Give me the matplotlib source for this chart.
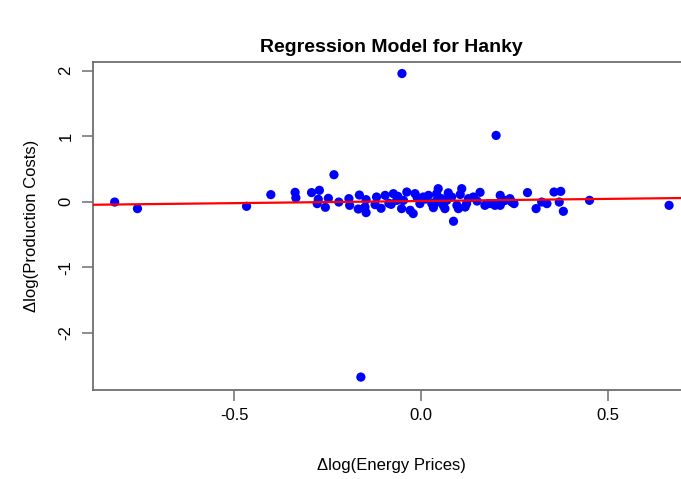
import matplotlib
matplotlib.use("Agg")
import matplotlib.pyplot as plt
import numpy as np

plt.rcParams['font.family'] = ['Liberation Sans', 'DejaVu Sans']
plt.rcParams['axes.unicode_minus'] = False

# changes in log energy prices (x) and log production costs (y)
energy = [-0.820, -0.759, -0.467, -0.402, -0.337, -0.335, -0.293, -0.272, -0.233,
          -0.275, -0.278, -0.248, -0.256, -0.220, -0.193, -0.191, -0.168, -0.165,
          -0.147, -0.150, -0.147, -0.123, -0.119, -0.107, -0.096, -0.086, -0.074,
          -0.065, -0.062, -0.052, -0.047, -0.038, -0.029, -0.021, -0.016, -0.003,
          0.006, 0.020, 0.029, 0.037, 0.042, 0.042, 0.046, 0.055, 0.064, 0.069,
          0.073, 0.082, 0.087, 0.096, 0.100, 0.109, 0.118, 0.122, 0.127, 0.140,
          0.158, 0.171, 0.180, 0.189, 0.198, 0.212, 0.212, 0.216, 0.238, 0.243,
          0.249, 0.285, 0.308, 0.323, 0.337, 0.356, 0.374, 0.370, 0.381, 0.451,
          0.664, -0.051, 0.201, -0.161,
          0.012, 0.060, 0.150, -0.010, 0.105, -0.080, 0.225, 0.033]
costs = [-0.005, -0.105, -0.070, 0.108, 0.143, 0.059, 0.139, 0.174, 0.412,
         0.037, -0.029, 0.052, -0.085, -0.005, 0.047, -0.055, -0.111, 0.102,
         0.032, -0.081, -0.166, -0.044, 0.072, -0.100, 0.097, -0.024, 0.123,
         0.021, 0.082, -0.105, 0.021, 0.148, -0.131, -0.181, 0.123, -0.029,
         0.072, 0.097, -0.029, -0.029, 0.123, 0.021, 0.199, 0.047, -0.105, 0.021,
         0.135, 0.072, -0.298, -0.055, -0.105, 0.199, -0.081, -0.029, 0.047, 0.072,
         0.143, -0.055, -0.029, -0.029, -0.055, 0.097, -0.055, -0.005, 0.047, -0.005,
         -0.029, 0.139, -0.105, -0.005, -0.029, 0.148, 0.158, -0.005, -0.146, 0.021,
         -0.055, 1.954, 1.011, -2.673,
         0.040, -0.060, 0.010, 0.060, 0.110, -0.040, 0.020, -0.090]

# fitted regression coefficients
intercept = 0.011
slope = 0.065

fig = plt.figure(figsize=(6.81, 4.79), dpi=100)
ax = fig.add_axes([93 / 681, 89 / 479, 597 / 681, 328 / 479])

ax.scatter(energy, costs, s=44, color='#0000ff', edgecolors='none', zorder=3)
ax.axline((0, intercept), slope=slope, color='#ff0000', linewidth=1.6, zorder=4)

ax.set_xlim(-0.878, 0.72)
ax.set_ylim(-2.87, 2.13)
ax.set_xticks([-0.5, 0.0, 0.5])
ax.set_xticklabels(['-0.5', '0.0', '0.5'])
ax.set_yticks([-2, -1, 0, 1, 2])

for s in ax.spines.values():
    s.set_color('#6e6e6e')
    s.set_linewidth(1.3)
ax.tick_params(axis='both', length=8, width=1.1, color='#6e6e6e', labelsize=12)
ax.tick_params(axis='x', pad=5)
ax.tick_params(axis='y', pad=6)
for lab in ax.get_yticklabels():
    lab.set_rotation(90)
    lab.set_va('center')

ax.set_title('Regression Model for Hanky', fontsize=14, fontweight='bold', pad=7)
ax.set_xlabel('Δlog(Energy Prices)', fontsize=12, labelpad=25)
ax.set_ylabel('Δlog(Production Costs)', fontsize=12, labelpad=14)

fig.savefig('out.png', dpi=100)
